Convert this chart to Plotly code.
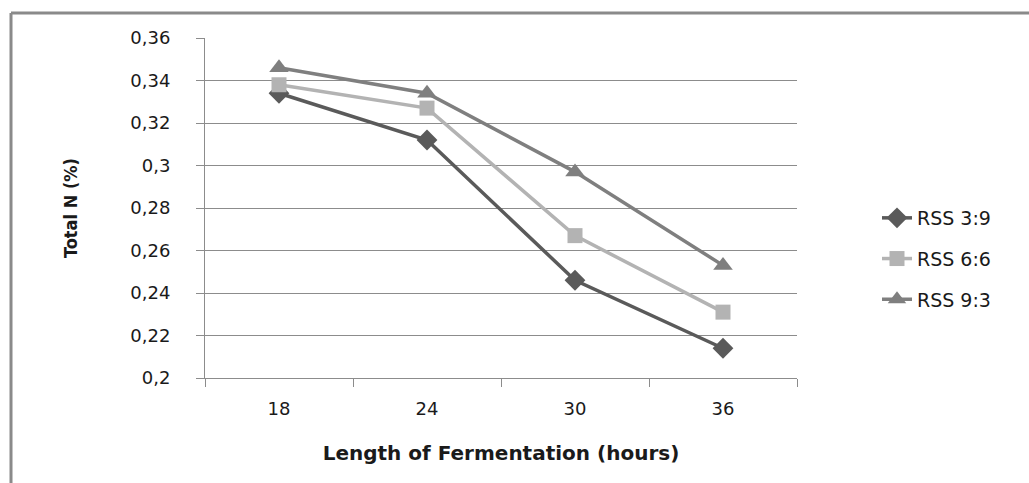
import plotly.graph_objects as go

hours = ["18", "24", "30", "36"]
rss_3_9 = [0.334, 0.312, 0.246, 0.214]
rss_6_6 = [0.338, 0.327, 0.267, 0.231]
rss_9_3 = [0.346, 0.334, 0.297, 0.253]
series_names = ["RSS 3:9", "RSS 6:6", "RSS 9:3"]
y_ticks = [0.2, 0.22, 0.24, 0.26, 0.28, 0.3, 0.32, 0.34, 0.36]

W, H = 1029, 483
L, R, T, B = 205, 232, 38, 105
pw, ph = W - L - R, H - T - B

styles = [
    dict(color="#5a5a5a", symbol="diamond", size=16),
    dict(color="#b3b3b3", symbol="square", size=15),
    dict(color="#7f7f7f", symbol="triangle-up", size=17),
]

fig = go.Figure()
for name, vals, st in zip(series_names, [rss_3_9, rss_6_6, rss_9_3], styles):
    fig.add_trace(go.Scatter(
        x=hours, y=vals, name=name, mode="lines+markers",
        legendgroup=name,
        line=dict(color=st["color"], width=3.5),
        marker=dict(symbol=st["symbol"], size=st["size"], color=st["color"]),
    ))

grid = "#8c8c8c"
tick_font = dict(family="DejaVu Sans, Verdana, sans-serif", size=18, color="#1a1a1a")

fig.update_layout(
    width=W, height=H,
    margin=dict(l=L, r=R, t=T, b=B),
    paper_bgcolor="white", plot_bgcolor="white",
    separators=", ",
    showlegend=True,
    legend=dict(
        x=(877 - L) / pw, y=(H - B - 199) / ph, xanchor="left", yanchor="top",
        font=dict(family="DejaVu Sans, Verdana, sans-serif", size=19, color="#1a1a1a"),
        tracegroupgap=13, bgcolor="rgba(0,0,0,0)",
    ),
    xaxis=dict(
        type="category", tickson="boundaries", ticks="outside", ticklen=8,
        tickcolor=grid, showline=True, linecolor=grid, linewidth=1,
        showgrid=False, tickfont=tick_font, ticklabelstandoff=14,
        range=[-0.5, 3.5],
        title=dict(text="<b>Length of Fermentation (hours)</b>",
                   font=dict(family="DejaVu Sans, Verdana, sans-serif", size=20, color="#1a1a1a"),
                   standoff=28),
    ),
    yaxis=dict(
        range=[0.2, 0.36], tickvals=y_ticks, ticks="outside", ticklen=8,
        tickcolor=grid, showline=True, linecolor=grid, linewidth=1,
        showgrid=True, gridcolor=grid, gridwidth=1, zeroline=False,
        tickfont=tick_font, ticklabelstandoff=22,
        title=dict(text="<b>Total N (%)</b>",
                   font=dict(family="Liberation Sans Narrow, DejaVu Sans Condensed, sans-serif", size=18, color="#1a1a1a"),
                   standoff=48),
    ),
)

# outer chart border (top and left edges visible)
bx0 = (11 - L) / pw
by_top = (H - B - 13) / ph
fig.add_shape(type="line", xref="paper", yref="paper",
              x0=bx0, x1=(W + 5 - L) / pw, y0=by_top, y1=by_top,
              line=dict(color="#8a8a8a", width=3))
fig.add_shape(type="line", xref="paper", yref="paper",
              x0=bx0, x1=bx0, y0=by_top, y1=(H - B - H - 5) / ph,
              line=dict(color="#8a8a8a", width=3))

fig.write_html("out.html")
